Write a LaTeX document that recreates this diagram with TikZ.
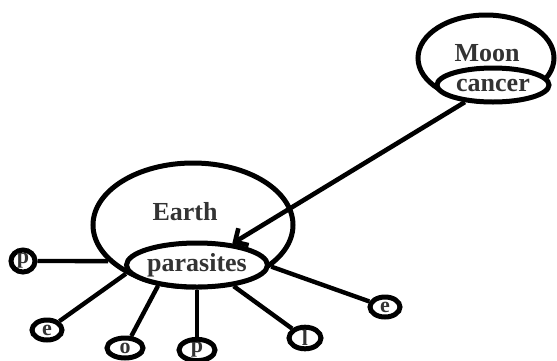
\documentclass[tikz,border=0pt]{standalone}
\usepackage{fontspec}
\setmainfont{Liberation Serif}
\usepackage{tikz}
\usetikzlibrary{shapes.geometric, arrows.meta, positioning}

\begin{document}
\begin{tikzpicture}[x=0.5pt, y=-0.5pt,
    orb/.style={ellipse, draw=black, line width=2.5pt, fill=white, inner sep=0pt},
    core/.style={ellipse, draw=black, line width=2.5pt, fill=white, inner sep=0pt, font=\fontsize{13}{15}\selectfont\bfseries, text=black!80},
    dot/.style={ellipse, draw=black, line width=2.5pt, fill=white, inner sep=0pt, minimum width=16pt, minimum height=10pt, font=\fontsize{11}{12}\selectfont\bfseries, text=black!80},
    arr/.style={-{Straight Barb[angle=90:7pt]}, line width=2.3pt},
    link/.style={line width=2.2pt},
    lbl/.style={font=\fontsize{13}{15}\selectfont\bfseries, text=black!80}
]
\useasboundingbox (0,0) rectangle (557,360);

% moon side
\node[orb, minimum width=68pt, minimum height=43pt] (moon) at (486,58) {};
\node[lbl] (moonlbl) at (487,53) {Moon};
\node[core, minimum width=56pt, minimum height=17pt] (cancer) at (493,85) {cancer};

% earth side
\node[orb, minimum width=100pt, minimum height=62pt] (earth) at (193,225) {};
\node[lbl] (earthlbl) at (185,212) {Earth};
\node[core, minimum width=66pt, minimum height=22pt] (parasites) at (197,265) {parasites};

% letters round the earth
\node[dot, minimum width=12pt, minimum height=11pt] (p1) at (23,261) {p};
\node[dot, minimum width=15pt] (e1) at (47,330) {e};
\node[dot, minimum width=18pt] (o1) at (125,348) {o};
\node[dot, minimum width=18pt] (p2) at (197,350) {p};
\node[dot, minimum width=16pt] (l1) at (305,338) {l};
\node[dot, minimum width=15pt] (e2) at (385,307) {e};

\draw[link] (p1) -- (earth.203);
\draw[link] (e1) -- (earth.216);
\draw[link] (o1) -- (parasites.208);
\draw[link] (p2) -- (parasites.270);
\draw[link] (l1) -- (parasites.330);
\draw[link] (e2) -- (earth.332);

\draw[arr] (cancer) -- (parasites);
\end{tikzpicture}
\end{document}
